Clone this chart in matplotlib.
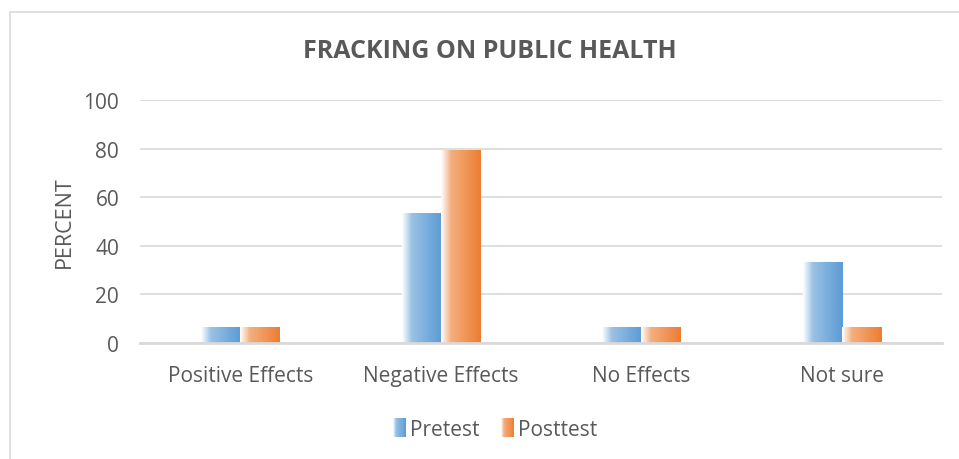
import numpy as np
import matplotlib
matplotlib.use("Agg")
import matplotlib.pyplot as plt
from matplotlib.colors import LinearSegmentedColormap
from matplotlib.patches import Rectangle
from matplotlib.legend_handler import HandlerBase

categories = ["Positive Effects", "Negative Effects", "No Effects", "Not sure"]
pretest = [6.7, 53.3, 6.7, 33.3]
posttest = [6.7, 79.3, 6.7, 6.7]
series_names = ["Pretest", "Posttest"]
y_ticks = [0, 20, 40, 60, 80, 100]

BLUE = "#5b9bd5"
ORANGE = "#ed7d31"
TEXT = "#595959"
GRID = "#d9d9d9"


def fade_cmap(color):
    # white on the left edge, full colour on the right edge
    c = matplotlib.colors.to_rgb(color)
    light = tuple(1 - 0.62 * (1 - v) for v in c)
    return LinearSegmentedColormap.from_list(
        "fade", [(0.0, (1, 1, 1)), (0.25, light), (1.0, c)]
    )


class GradientHandler(HandlerBase):
    def __init__(self, color, **kw):
        super().__init__(**kw)
        self.cmap = fade_cmap(color)

    def create_artists(self, legend, orig_handle, xdescent, ydescent,
                       width, height, fontsize, trans):
        n = 12
        w = width / n
        arts = []
        for i in range(n):
            r = Rectangle((-xdescent + i * w, -ydescent), w * 1.05, height,
                          facecolor=self.cmap((i + 0.5) / n), edgecolor="none",
                          transform=trans)
            arts.append(r)
        return arts


fig = plt.figure(figsize=(9.59, 4.6), dpi=100)
fig.patches.append(Rectangle((10 / 959, -0.1), 1.2, 1 - 13 / 460 + 0.1,
                             transform=fig.transFigure, facecolor="none",
                             edgecolor=GRID, linewidth=1.2))
ax = fig.add_axes([140 / 959, 1 - 344 / 460, 802 / 959, 243 / 460])

x = np.arange(len(categories))
width = 0.195
for vals, color, offset in [(pretest, BLUE, -width / 2), (posttest, ORANGE, width / 2)]:
    bars = ax.bar(x + offset, vals, width, color="none", edgecolor="none", zorder=3)
    cmap = fade_cmap(color)
    grad = np.linspace(0, 1, 256).reshape(1, -1)
    for b in bars:
        x0, y0 = b.get_x(), b.get_y()
        im = ax.imshow(grad, cmap=cmap, aspect="auto", interpolation="bicubic",
                       extent=(x0, x0 + b.get_width(), y0, y0 + b.get_height()),
                       zorder=3)
        im.set_clip_path(b)

ax.set_xlim(-0.5, len(categories) - 0.5)
ax.set_ylim(0, 100)
ax.set_yticks(y_ticks)
ax.set_xticks(x)
ax.set_xticklabels(categories)
ax.tick_params(length=0, colors=TEXT, labelsize=15)
ax.tick_params(axis="y", pad=15)
ax.tick_params(axis="x", pad=16)
for lbl in ax.get_xticklabels() + ax.get_yticklabels():
    lbl.set_fontfamily("Open Sans")

ax.grid(axis="y", color=GRID, linewidth=1.2, zorder=0)
ax.set_axisbelow(True)
for s in ["top", "right", "left"]:
    ax.spines[s].set_visible(False)
ax.spines["bottom"].set_color(GRID)
ax.spines["bottom"].set_linewidth(2)
ax.spines["bottom"].set_zorder(4)

ax.set_ylabel("PERCENT", fontsize=15.5, color=TEXT, fontfamily="Open Sans", labelpad=6.5)
fig.text(490 / 959, 1 - 52 / 460, "FRACKING ON PUBLIC HEALTH", ha="center", va="center",
         fontsize=18, fontweight="bold", color=TEXT, fontfamily="Open Sans")

h1 = Rectangle((0, 0), 1, 1)
h2 = Rectangle((0, 0), 1, 1)
leg = fig.legend([h1, h2], series_names, loc="center", bbox_to_anchor=(495 / 959, 1 - 430 / 460),
                 ncol=2, frameon=False, handlelength=0.65, handleheight=1.0,
                 handletextpad=0.2, columnspacing=1.0,
                 prop={"family": "Open Sans", "size": 15},
                 handler_map={h1: GradientHandler(BLUE), h2: GradientHandler(ORANGE)})
for t in leg.get_texts():
    t.set_color(TEXT)

fig.savefig("out.png", dpi=100)
